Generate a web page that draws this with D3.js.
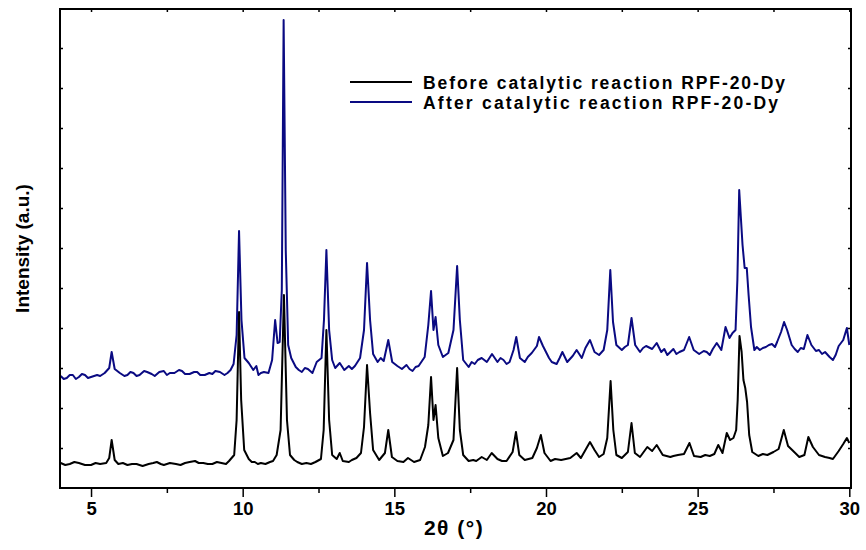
<!DOCTYPE html>
<html>
<head>
<meta charset="utf-8">
<script src="https://cdn.jsdelivr.net/npm/d3@7"></script>
<style>
  html, body { margin: 0; padding: 0; background: #fff; }
  svg { display: block; font-family: "Liberation Sans", Arial, sans-serif; }
</style>
</head>
<body>
<svg id="chart" width="866" height="550"></svg>
<script>
// ---- Data (2θ in degrees, intensity in arbitrary units) ----
const beforeTheta = [4.0,4.15,4.3,4.45,4.6,4.8,5.0,5.15,5.3,5.5,5.6,5.68,5.78,5.9,6.05,6.2,6.35,6.5,6.7,6.9,7.05,7.17,7.3,7.4,7.6,7.8,7.95,8.1,8.25,8.43,8.55,8.7,8.85,9.0,9.15,9.3,9.45,9.55,9.72,9.8,9.88,9.95,10.05,10.2,10.3,10.4,10.5,10.6,10.75,10.9,11.0,11.12,11.25,11.36,11.46,11.56,11.7,11.8,11.95,12.1,12.25,12.4,12.58,12.67,12.76,12.85,12.95,13.1,13.2,13.3,13.5,13.6,13.75,13.9,14.0,14.1,14.2,14.3,14.5,14.69,14.8,14.92,15.1,15.3,15.45,15.65,15.85,16.01,16.12,16.21,16.29,16.36,16.45,16.6,16.77,16.95,17.07,17.16,17.27,17.45,17.6,17.7,17.88,18.05,18.21,18.4,18.55,18.7,18.9,19.01,19.12,19.3,19.55,19.7,19.83,19.95,20.15,20.3,20.5,20.65,20.8,21.01,21.15,21.3,21.45,21.6,21.75,21.9,22.02,22.13,22.22,22.32,22.5,22.7,22.82,22.93,23.1,23.34,23.5,23.65,23.85,24.1,24.2,24.35,24.55,24.73,24.88,25.1,25.25,25.4,25.55,25.68,25.82,25.96,26.07,26.18,26.27,26.32,26.38,26.45,26.51,26.57,26.63,26.7,26.8,27.0,27.15,27.3,27.5,27.67,27.84,27.98,28.15,28.35,28.52,28.65,28.8,29.0,29.2,29.35,29.46,29.65,29.8,29.92,30.0];
const beforeIntensity = [25,23,24,26,25,23,23,25,24,25,30,48,28,24,25,23,24,24,22,24,25,26,24,23,25,24,23,25,26,27,25,25,24,24,26,25,24,27,33,68,176,88,38,29,26,26,24,25,24,26,27,33,58,193,68,33,28,26,24,25,24,26,29,58,158,68,33,29,35,27,26,28,30,35,61,123,75,38,28,35,58,31,27,26,30,26,28,41,63,111,68,83,50,32,35,48,120,58,33,27,28,27,31,28,35,29,27,27,36,56,33,28,30,40,53,35,27,29,28,29,30,35,30,38,46,38,31,34,50,107,58,33,30,36,65,35,31,41,37,43,33,31,32,33,34,45,32,31,33,32,34,43,35,55,48,50,58,88,152,136,108,100,86,53,36,32,34,33,36,39,58,42,37,31,33,51,41,33,31,30,29,37,44,50,45];

const afterTheta = [4.0,4.1,4.2,4.3,4.4,4.5,4.6,4.7,4.8,4.9,5.0,5.1,5.2,5.3,5.45,5.6,5.68,5.78,5.95,6.1,6.2,6.3,6.4,6.5,6.6,6.75,6.85,7.0,7.1,7.25,7.4,7.5,7.6,7.75,7.9,8.0,8.1,8.25,8.4,8.5,8.6,8.75,8.9,9.0,9.1,9.25,9.4,9.5,9.6,9.7,9.8,9.88,9.96,10.06,10.2,10.35,10.45,10.52,10.6,10.7,10.85,10.97,11.07,11.15,11.22,11.29,11.35,11.42,11.5,11.6,11.75,11.85,11.95,12.05,12.15,12.3,12.44,12.6,12.68,12.76,12.85,12.95,13.05,13.2,13.35,13.5,13.6,13.7,13.87,14.0,14.1,14.2,14.3,14.45,14.55,14.65,14.8,14.93,15.1,15.25,15.4,15.5,15.6,15.7,15.8,16.0,16.12,16.21,16.29,16.36,16.45,16.6,16.78,16.95,17.07,17.16,17.27,17.45,17.55,17.65,17.75,17.88,18.05,18.22,18.4,18.5,18.6,18.7,18.8,18.93,19.02,19.14,19.3,19.4,19.53,19.7,19.77,19.9,20.0,20.1,20.19,20.35,20.45,20.54,20.7,20.88,21.01,21.18,21.3,21.45,21.6,21.75,21.9,22.02,22.12,22.21,22.32,22.5,22.6,22.7,22.82,22.94,23.1,23.2,23.3,23.5,23.65,23.8,23.9,24.0,24.2,24.3,24.4,24.55,24.72,24.87,25.05,25.2,25.3,25.4,25.5,25.63,25.78,25.92,26.05,26.15,26.25,26.31,26.37,26.42,26.48,26.55,26.62,26.68,26.76,26.87,26.95,27.05,27.15,27.25,27.35,27.45,27.55,27.62,27.75,27.85,27.95,28.1,28.2,28.3,28.4,28.5,28.62,28.75,28.9,29.0,29.1,29.2,29.35,29.46,29.55,29.65,29.8,29.92,30.0];
const afterIntensity = [112,109,110,113,113,109,111,114,113,110,111,112,113,112,115,120,136,119,115,112,113,116,115,112,113,117,116,114,112,116,117,113,115,115,118,117,114,114,116,116,113,113,115,114,117,116,113,115,118,124,153,257,168,130,125,118,122,113,115,116,115,128,168,145,146,198,468,238,143,130,121,118,116,120,119,115,126,130,168,238,158,128,120,125,118,122,119,122,130,158,225,168,134,126,130,127,148,126,122,119,123,119,117,121,122,131,163,197,158,171,143,131,135,158,222,168,128,121,126,124,128,130,126,134,126,130,128,124,126,138,151,130,126,131,135,142,151,142,136,130,126,124,130,136,126,132,138,130,140,148,136,133,138,158,218,166,143,138,141,143,170,143,136,140,142,139,145,136,139,133,139,134,136,138,151,138,134,137,136,133,139,145,138,161,150,155,158,208,298,273,243,220,220,193,161,138,141,138,140,141,143,144,141,146,156,166,158,143,139,136,140,139,153,143,137,138,134,136,131,128,133,142,148,160,143];

const xMajorTicks = [5, 10, 15, 20, 25, 30];
const xMinorTicks = [7.5, 12.5, 17.5, 22.5, 27.5];
const yTicks = [40, 80, 120, 160, 200, 240, 280, 320, 360, 400, 440];

const seriesNames = ["Before catalytic reaction RPF-20-Dy", "After catalytic reaction RPF-20-Dy"];
const seriesColors = ["#000000", "#0a0a82"];

// ---- Layout ----
const svg = d3.select("#chart");
const L = 60, R = 851, T = 9, B = 488;

const x = d3.scaleLinear().domain([4, 30]).range([60.7, 849.3]);
const y = d3.scaleLinear().domain([0, 479]).range([B, T]);

const before = beforeTheta.map((t, i) => [t, beforeIntensity[i]]);
const after = afterTheta.map((t, i) => [t, afterIntensity[i]]);

const line = d3.line().x(d => x(d[0])).y(d => y(d[1]));

svg.append("clipPath").attr("id", "clip")
  .append("rect").attr("x", L).attr("y", T).attr("width", R - L).attr("height", B - T);

const plot = svg.append("g").attr("clip-path", "url(#clip)");
plot.append("path").datum(after).attr("d", line)
  .attr("fill", "none").attr("stroke", seriesColors[1]).attr("stroke-width", 2).attr("stroke-linejoin", "round");
plot.append("path").datum(before).attr("d", line)
  .attr("fill", "none").attr("stroke", seriesColors[0]).attr("stroke-width", 2).attr("stroke-linejoin", "round");

// ---- Axes ----
const axisStyle = g => {
  g.select(".domain").remove();
  g.selectAll(".tick line").attr("stroke", "#000").attr("stroke-width", 1.5);
};

svg.append("g").attr("transform", `translate(0,${B})`)
  .call(d3.axisBottom(x).tickValues(xMajorTicks).tickSize(9).tickPadding(5).tickFormat(d3.format("d")))
  .call(axisStyle)
  .call(g => g.selectAll("text").attr("font-size", 18.5).attr("font-weight", "bold")
        .attr("font-family", "Liberation Sans, Arial, sans-serif").attr("fill", "#000"));
svg.append("g").attr("transform", `translate(0,${B})`)
  .call(d3.axisBottom(x).tickValues(xMinorTicks).tickSize(5).tickFormat(""))
  .call(axisStyle);
svg.append("g").attr("transform", `translate(0,${T})`)
  .call(d3.axisBottom(x).tickValues(xMajorTicks.concat(xMinorTicks)).tickSize(3).tickFormat(""))
  .call(axisStyle);
svg.append("g").attr("transform", `translate(${L},0)`)
  .call(d3.axisRight(y).tickValues(yTicks).tickSize(3).tickFormat(""))
  .call(axisStyle);
svg.append("g").attr("transform", `translate(${R},0)`)
  .call(d3.axisLeft(y).tickValues(yTicks).tickSize(3).tickFormat(""))
  .call(axisStyle);

svg.append("rect").attr("x", L).attr("y", T).attr("width", R - L).attr("height", B - T)
  .attr("fill", "none").attr("stroke", "#000").attr("stroke-width", 2);

// ---- Titles ----
svg.append("text").attr("x", 454).attr("y", 535).attr("text-anchor", "middle")
  .attr("font-size", 21).attr("font-weight", "bold").attr("letter-spacing", 1.5).text("2θ (°)");
svg.append("text").attr("transform", `translate(29,${(T + B) / 2}) rotate(-90)`)
  .attr("text-anchor", "middle").attr("font-size", 19).attr("font-weight", "bold").text("Intensity (a.u.)");

// ---- Legend ----
const legendWidths = [362, 355];
const legend = svg.append("g");
seriesNames.forEach((name, i) => {
  const ly = 82 + i * 20;
  legend.append("line").attr("x1", 350).attr("x2", 412).attr("y1", ly).attr("y2", ly)
    .attr("stroke", seriesColors[i]).attr("stroke-width", 2);
  legend.append("text").attr("x", 423).attr("y", ly + 7).attr("font-size", 17.5)
    .attr("font-weight", "bold").attr("textLength", legendWidths[i]).attr("lengthAdjust", "spacing").text(name);
});
</script>
</body>
</html>
